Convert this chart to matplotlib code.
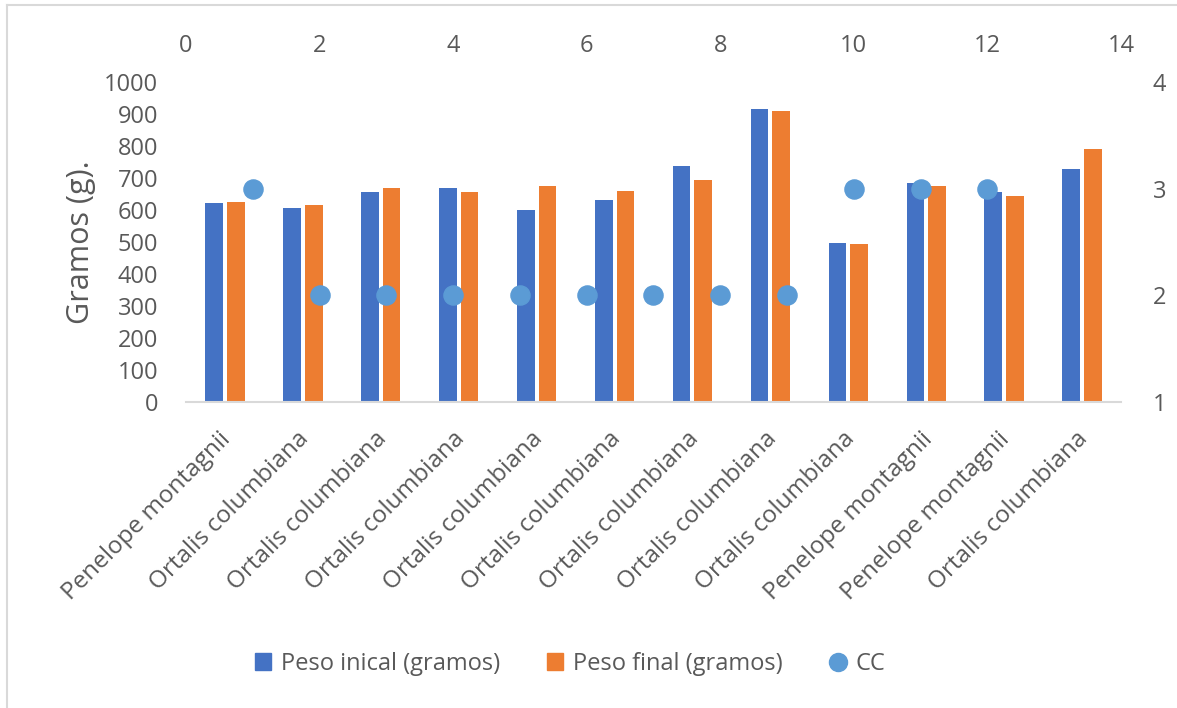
import matplotlib.pyplot as plt
from matplotlib.lines import Line2D
from matplotlib.transforms import ScaledTranslation

plt.rcParams['font.family'] = ['Open Sans', 'DejaVu Sans']

# Data
especies = ["Penelope montagnii", "Ortalis columbiana", "Ortalis columbiana",
            "Ortalis columbiana", "Ortalis columbiana", "Ortalis columbiana",
            "Ortalis columbiana", "Ortalis columbiana", "Ortalis columbiana",
            "Penelope montagnii", "Penelope montagnii", "Ortalis columbiana"]
peso_inicial = [621, 606, 655, 670, 601, 630, 737, 915, 498, 683, 655, 728]
peso_final = [625, 616, 670, 655, 675, 659, 695, 910, 494, 675, 645, 792]
cc_x = [1, 2, 3, 4, 5, 6, 7, 8, 9, 10, 11, 12]
cc = [3, 2, 2, 2, 2, 2, 2, 2, 2, 3, 3, 3]

blue = "#4472C4"
orange = "#ED7D31"
cc_color = "#5B9BD5"
txt = "#595959"

fig = plt.figure(figsize=(11.77, 7.08), dpi=100)
pos = [186 / 1177, 1 - 402 / 708, 935 / 1177, 320 / 708]

ax = fig.add_axes(pos)
x = range(len(especies))
w = 0.227
off = 0.139
ax.bar([i - off for i in x], peso_inicial, width=w, color=blue, label="Peso inical (gramos)")
ax.bar([i + off for i in x], peso_final, width=w, color=orange, label="Peso final (gramos)")
ax.set_xlim(-0.5, len(especies) - 0.5)
ax.set_ylim(0, 1000)
ax.set_yticks(range(0, 1001, 100))
ax.set_xticks(list(x))
ax.set_xticklabels(especies, rotation=45, ha="right", rotation_mode="anchor")
ax.tick_params(axis="x", length=0, pad=18, labelsize=17.5, colors=txt)
ax.tick_params(axis="y", length=0, pad=20, labelsize=17, colors=txt)
# nudge rotated labels a bit to the left, like the original
shift = ScaledTranslation(-0.06, 0, fig.dpi_scale_trans)
for lab in ax.get_xticklabels():
    lab.set_transform(lab.get_transform() + shift)
ax.set_ylabel("Gramos (g).", fontsize=22, color=txt, labelpad=6)
for s in ["top", "right", "left"]:
    ax.spines[s].set_visible(False)
ax.spines["bottom"].set_color("#D9D9D9")
ax.spines["bottom"].set_linewidth(1.5)

# Secondary axes for CC (top x axis, right y axis)
ax2 = fig.add_axes(pos, facecolor="none")
ax2.scatter(cc_x, cc, s=190, color=cc_color, zorder=5, label="CC")
ax2.set_xlim(0, 14)
ax2.set_ylim(1, 4)
ax2.set_xticks(range(0, 15, 2))
ax2.set_yticks([1, 2, 3, 4])
ax2.xaxis.tick_top()
ax2.yaxis.tick_right()
ax2.tick_params(axis="x", length=0, pad=17.5, labelsize=17, colors=txt)
ax2.tick_params(axis="y", length=0, pad=23, labelsize=17, colors=txt)
for s in ax2.spines.values():
    s.set_visible(False)

handles = [
    plt.Rectangle((0, 0), 1, 1, color=blue),
    plt.Rectangle((0, 0), 1, 1, color=orange),
    Line2D([], [], marker="o", linestyle="", color=cc_color, markersize=13),
]
labels = ["Peso inical (gramos)", "Peso final (gramos)", "CC"]
fig.legend(handles, labels, loc="center", bbox_to_anchor=(570 / 1177, 1 - 664 / 708),
           ncol=3, frameon=False, fontsize=17, labelcolor=txt,
           handlelength=0.7, handleheight=0.7, handletextpad=0.4, columnspacing=2.0)

# light chart border (top and left edges visible)
fig.add_artist(Line2D([7 / 1177, 7 / 1177], [0, 1 - 5 / 708], transform=fig.transFigure, color="#D9D9D9", lw=1.5))
fig.add_artist(Line2D([7 / 1177, 1], [1 - 5 / 708, 1 - 5 / 708], transform=fig.transFigure, color="#D9D9D9", lw=1.5))

fig.savefig("out.png", dpi=100)
